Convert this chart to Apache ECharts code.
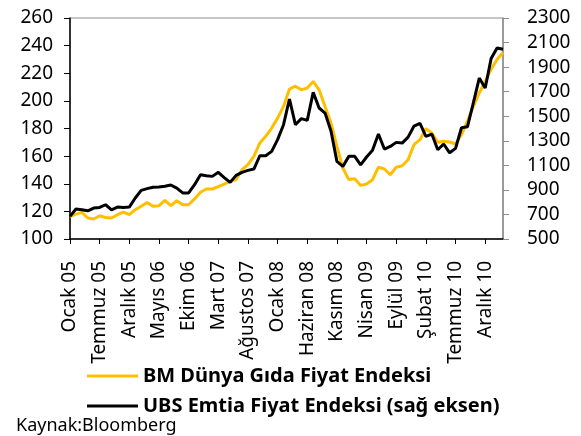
<!DOCTYPE html>
<html>
<head>
<meta charset="utf-8">
<script src="https://cdn.jsdelivr.net/npm/echarts@6/dist/echarts.min.js"></script>
<style>
  html, body { margin: 0; padding: 0; background: #fff; }
  #chart { width: 581px; height: 436px; }
</style>
</head>
<body>
<div id="chart"></div>
<script>
const months = [
  "Ocak 05", "Mart 05", "Nisan 05", "Mayıs 05", "Haziran 05", "Temmuz 05", "Ağustos 05", "Eylül 05", "Ekim 05", "Kasım 05", "Aralık 05",
  "Ocak 06", "Şubat 06", "Mart 06", "Nisan 06", "Mayıs 06", "Haziran 06", "Temmuz 06", "Ağustos 06", "Eylül 06", "Ekim 06", "Kasım 06", "Aralık 06",
  "Ocak 07", "Şubat 07", "Mart 07", "Nisan 07", "Mayıs 07", "Haziran 07", "Temmuz 07", "Ağustos 07", "Eylül 07", "Ekim 07", "Kasım 07", "Aralık 07",
  "Ocak 08", "Şubat 08", "Mart 08", "Nisan 08", "Mayıs 08", "Haziran 08", "Temmuz 08", "Ağustos 08", "Eylül 08", "Ekim 08", "Kasım 08", "Aralık 08",
  "Ocak 09", "Şubat 09", "Mart 09", "Nisan 09", "Mayıs 09", "Haziran 09", "Temmuz 09", "Ağustos 09", "Eylül 09", "Ekim 09", "Kasım 09", "Aralık 09",
  "Ocak 10", "Şubat 10", "Mart 10", "Nisan 10", "Mayıs 10", "Haziran 10", "Temmuz 10", "Ağustos 10", "Eylül 10", "Ekim 10", "Kasım 10", "Aralık 10",
  "Ocak 11", "Şubat 11", "Mart 11"
];

// BM Dünya Gıda Fiyat Endeksi (sol eksen)
const foodIndex = [
  116.3, 118, 119.3, 115.2, 114.5, 116.8, 115.6, 115.2, 117.6, 119.5, 117.6,
  121.2, 123.7, 126.5, 123.7, 124.1, 128, 124.1, 127.7, 124.8, 124.8, 129, 133.8,
  136.2, 136.2, 138, 139.8, 141.7, 143, 150.2, 153.9, 159.8, 169.5, 174.3, 180.3,
  187.5, 196, 208.6, 210.6, 208, 209.3, 214.1, 208, 196, 184, 167, 151.4,
  143, 143.6, 138.8, 139.8, 142.9, 152, 150.7, 146.5, 152, 153, 157.4, 168.3,
  171.9, 179.8, 176.7, 170, 170.7, 170.2, 168.8, 175.5, 185.2, 196, 205.7, 214,
  223, 230, 235
];

// UBS Emtia Fiyat Endeksi (sağ eksen)
const ubsIndex = [
  684, 744, 738, 730, 752, 757, 779, 738, 760, 757, 760,
  834, 896, 910, 921, 923, 929, 940, 915, 875, 875, 942, 1024,
  1016, 1010, 1043, 1000, 961, 1018, 1043, 1059, 1070, 1178, 1178, 1214,
  1309, 1431, 1640, 1431, 1480, 1466, 1694, 1567, 1526, 1380, 1132, 1091,
  1173, 1173, 1103, 1168, 1222, 1355, 1233, 1254, 1287, 1281, 1330, 1420,
  1442, 1336, 1355, 1227, 1274, 1202, 1238, 1406, 1414, 1608, 1811, 1730,
  1970, 2056, 2045
];

const rightTicks = [500, 700, 900, 1100, 1300, 1500, 1700, 1900, 2100, 2300];

const fontFamily = "Noto Sans";
const chart = echarts.init(document.getElementById("chart"));

chart.setOption({
  animation: false,
  textStyle: { fontFamily: fontFamily },
  title: {
    text: "Kaynak:Bloomberg",
    left: 16,
    top: 417,
    padding: 0,
    textStyle: { fontFamily: fontFamily, fontSize: 18, fontWeight: "normal", color: "#000" }
  },
  legend: {
    orient: "vertical",
    left: 87,
    top: 366,
    itemWidth: 51,
    itemHeight: 3,
    itemGap: 10,
    icon: "rect",
    padding: 0,
    textStyle: { fontFamily: fontFamily, fontSize: 20, fontWeight: "bold", color: "#000" },
    data: ["BM Dünya Gıda Fiyat Endeksi", "UBS Emtia Fiyat Endeksi (sağ eksen)"]
  },
  grid: {
    left: 70,
    right: 78,
    top: 18,
    bottom: 197,
    show: true,
    borderColor: "#8c8c8c",
    borderWidth: 1
  },
  xAxis: {
    type: "category",
    boundaryGap: false,
    data: months,
    axisLine: { lineStyle: { color: "#000", width: 1.5 } },
    axisTick: { interval: 4, length: 5, lineStyle: { color: "#000" } },
    axisLabel: {
      interval: 4,
      rotate: 90,
      margin: 22,
      fontSize: 19,
      color: "#000",
      fontFamily: fontFamily
    },
    splitLine: { show: false }
  },
  yAxis: [
    {
      type: "value",
      min: 100,
      max: 260,
      interval: 20,
      axisLine: { show: true, lineStyle: { color: "#000", width: 1.5 } },
      axisTick: { show: true, length: 6, lineStyle: { color: "#000" } },
      axisLabel: { margin: 17, fontSize: 19, color: "#000", fontFamily: fontFamily },
      splitLine: { show: false }
    },
    {
      type: "value",
      min: 500,
      max: 2300,
      position: "right",
      axisLine: { show: true, lineStyle: { color: "#8c8c8c", width: 1.5 } },
      axisTick: { show: true, length: 6, customValues: rightTicks, lineStyle: { color: "#8c8c8c" } },
      axisLabel: {
        margin: 24,
        fontSize: 19,
        color: "#000",
        fontFamily: fontFamily,
        customValues: rightTicks,
        formatter: (value) => String(value)
      },
      splitLine: { show: false }
    }
  ],
  series: [
    {
      name: "BM Dünya Gıda Fiyat Endeksi",
      type: "line",
      yAxisIndex: 0,
      data: foodIndex,
      showSymbol: false,
      symbol: "none",
      lineStyle: { color: "#FFBF00", width: 3 },
      itemStyle: { color: "#FFBF00" },
      z: 2
    },
    {
      name: "UBS Emtia Fiyat Endeksi (sağ eksen)",
      type: "line",
      yAxisIndex: 1,
      data: ubsIndex,
      showSymbol: false,
      symbol: "none",
      lineStyle: { color: "#000", width: 3 },
      itemStyle: { color: "#000" },
      z: 3
    }
  ]
});
</script>
</body>
</html>
